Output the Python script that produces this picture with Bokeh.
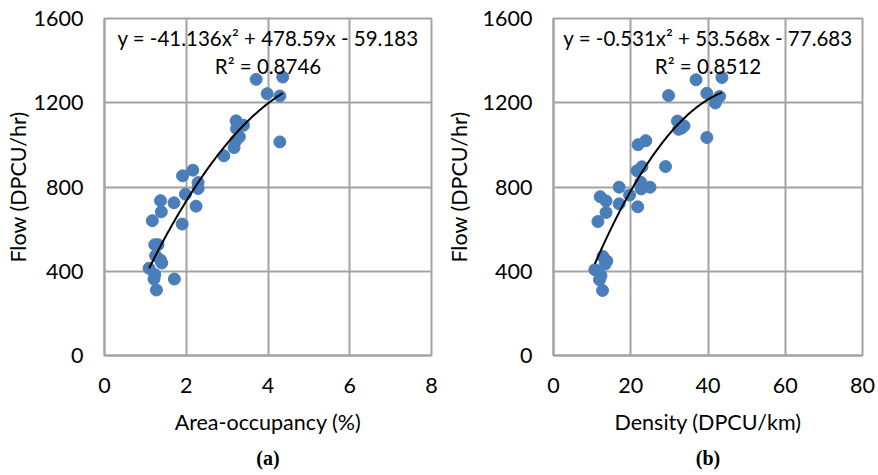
import numpy as np
from bokeh.plotting import figure
from bokeh.layouts import row
from bokeh.models import Label, Title, FixedTicker
from bokeh.embed import file_html
from bokeh.resources import INLINE

# ---- data (a): area-occupancy vs flow ----
occ = [3.71, 4.36, 3.98, 4.29, 3.22, 3.40, 3.23, 3.30, 3.21, 3.17, 4.29, 2.92,
       2.16, 1.91, 2.29, 2.29, 1.98, 1.70, 1.37, 2.24, 1.39, 1.17, 1.90, 1.23,
       1.31, 1.25, 1.37, 1.40, 1.09, 1.23, 1.21, 1.71, 1.27]
flow_a = [1311, 1322, 1243, 1232, 1114, 1093, 1077, 1038, 1019, 987, 1014, 948,
          880, 853, 821, 793, 766, 725, 735, 709, 682, 640, 624, 526,
          526, 474, 453, 439, 414, 384, 363, 363, 311]
coef_a = [-41.136, 478.59, -59.183]
eq_a = "y = -41.136x² + 478.59x - 59.183"
r2_a = "R² = 0.8746"

# ---- data (b): density vs flow ----
dens = [36.9, 43.6, 29.8, 39.7, 43.0, 41.9, 32.1, 33.8, 32.4, 33.2, 39.7, 23.9,
        21.9, 29.0, 22.9, 21.6, 22.6, 25.0, 22.7, 17.0, 19.7, 12.1, 13.6, 17.0,
        21.8, 13.6, 11.5, 12.8, 13.8, 13.4, 10.7, 12.3, 11.9, 12.7]
flow_b = [1309, 1320, 1234, 1245, 1230, 1199, 1113, 1090, 1074, 1080, 1035, 1020,
          1001, 897, 896, 877, 822, 799, 791, 799, 762, 754, 734, 720,
          706, 679, 636, 470, 449, 434, 407, 379, 360, 309]
coef_b = [-0.531, 53.568, -77.683]
eq_b = "y = -0.531x² + 53.568x - 77.683"
r2_b = "R² = 0.8512"

x_ticks_a = [0, 2, 4, 6, 8]
x_ticks_b = [0, 20, 40, 60, 80]
y_ticks = [0, 400, 800, 1200, 1600]

FONT = "Lato"
GRID = "#a3a3a3"
DOT = "#4a7ebb"


def make(xs, ys, coef, eq, r2, xticks, xlabel, tag, borders, eq_x, ylab_standoff):
    left, right, top, bottom = borders
    p = figure(width=439, height=475, output_backend="svg", toolbar_location=None,
               x_range=(xticks[0], xticks[-1]), y_range=(0, 1600),
               min_border_left=left, min_border_right=right,
               min_border_top=top, min_border_bottom=bottom)
    p.background_fill_color = "white"
    p.border_fill_color = "white"
    p.outline_line_color = GRID
    p.outline_line_width = 2
    for g in (p.xgrid, p.ygrid):
        g.grid_line_color = GRID
        g.grid_line_width = 2
    p.xaxis.ticker = FixedTicker(ticks=xticks)
    p.yaxis.ticker = FixedTicker(ticks=y_ticks)
    p.ygrid.ticker = FixedTicker(ticks=y_ticks)
    p.xgrid.ticker = FixedTicker(ticks=xticks)
    for ax in (p.xaxis, p.yaxis):
        ax.axis_line_color = GRID
        ax.axis_line_width = 2
        ax.major_tick_line_color = None
        ax.minor_tick_line_color = None
        ax.major_tick_out = 0
        ax.major_tick_in = 0
        ax.minor_tick_out = 0
        ax.minor_tick_in = 0
        ax.major_label_text_font = FONT
        ax.major_label_text_font_size = "21.5px"
        ax.major_label_text_color = "black"
        ax.axis_label_text_font = FONT
        ax.axis_label_text_font_size = "21.5px"
        ax.axis_label_text_font_style = "normal"
        ax.axis_label_text_color = "black"
    p.xaxis.axis_label = xlabel
    p.yaxis.axis_label = "Flow (DPCU/hr)"
    p.xaxis.major_label_standoff = 22
    p.yaxis.major_label_standoff = 21
    p.xaxis.axis_label_standoff = 13
    p.yaxis.axis_label_standoff = ylab_standoff

    p.scatter(xs, ys, size=12, color=DOT, line_color=DOT)

    xx = np.linspace(min(xs), max(xs), 100)
    yy = np.polyval(coef, xx)
    p.line(xx, yy, line_color="black", line_width=2)

    p.add_layout(Label(x=eq_x, y=1508, text=eq, text_align="center", text_baseline="middle",
                       text_font=FONT, text_font_size="20.5px", text_color="black"))
    p.add_layout(Label(x=eq_x, y=1376, text=r2, text_align="center", text_baseline="middle",
                       text_font=FONT, text_font_size="20.5px", text_color="black"))

    t = Title(text=tag, align="center", text_font="Liberation Serif",
              text_font_size="20px", text_font_style="bold", text_color="black",
              standoff=14)
    p.add_layout(t, "below")
    return p


p1 = make(occ, flow_a, coef_a, eq_a, r2_a, x_ticks_a, "Area-occupancy (%)", "(a)",
          (104, 8, 17, 120), 4.0, 0)
p2 = make(dens, flow_b, coef_b, eq_b, r2_b, x_ticks_b, "Density (DPCU/km)", "(b)",
          (114, 16, 18, 114), 40.0, 8)

layout = row(p1, p2)
open("out.html", "w").write(file_html(layout, INLINE))
